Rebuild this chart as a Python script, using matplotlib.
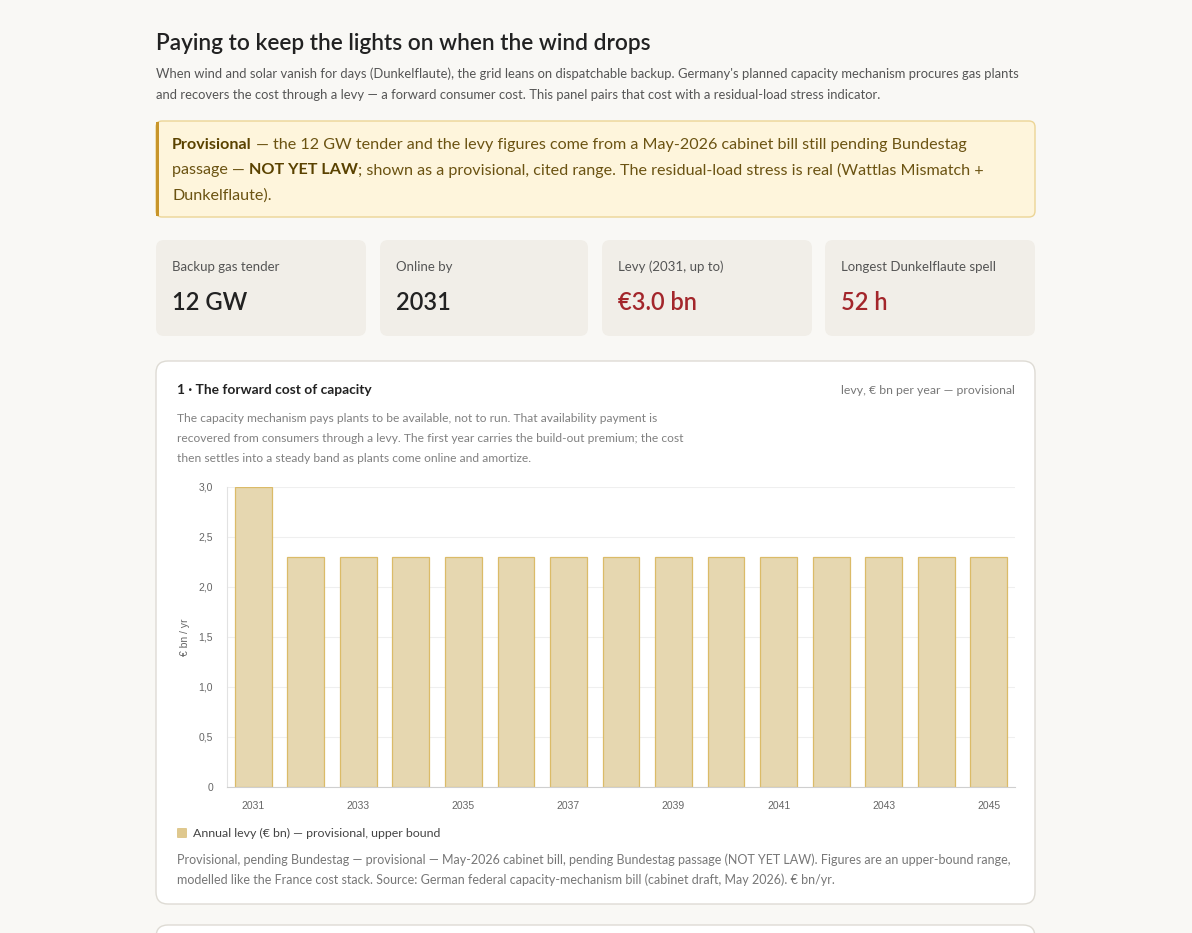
import numpy as np
import matplotlib.pyplot as plt
from matplotlib.patches import FancyBboxPatch, Rectangle
from matplotlib.ticker import FuncFormatter

# data
years = list(range(2031, 2046))
levy = [3.0] + [2.3] * 14
y_ticks = [0, 0.5, 1.0, 1.5, 2.0, 2.5, 3.0]
x_tick_years = [2031, 2033, 2035, 2037, 2039, 2041, 2043, 2045]

kpi_labels = ['Backup gas tender', 'Online by', 'Levy (2031, up to)', 'Longest Dunkelflaute spell']
kpi_values = ['12 GW', '2031', '€3.0 bn', '52 h']
kpi_colors = ['#222222', '#222222', '#a3262b', '#a3262b']

W, H = 1192, 933
FONT = ['Lato', 'DejaVu Sans']
TICKFONT = ['Liberation Sans', 'DejaVu Sans']
plt.rcParams['font.family'] = FONT

fig = plt.figure(figsize=(W / 100, H / 100), dpi=100)
fig.patch.set_facecolor('#f9f8f5')

# overlay axes in pixel coordinates (y down)
bg = fig.add_axes([0, 0, 1, 1], zorder=0)
bg.set_xlim(0, W)
bg.set_ylim(H, 0)
bg.axis('off')


def box(x0, y0, x1, y1, fc, ec='none', lw=1, r=8):
    p = FancyBboxPatch((x0 + r, y0 + r), (x1 - x0) - 2 * r, (y1 - y0) - 2 * r,
                       boxstyle='round,pad=%d' % r, fc=fc, ec=ec, lw=lw)
    bg.add_patch(p)


def runs(x, y, parts, size):
    # draw consecutive text segments (text, bold, color) on one line
    fig.canvas.draw()
    for txt, bold, col in parts:
        t = bg.text(x, y, txt, fontsize=size, color=col, va='center',
                    fontweight='bold' if bold else 'normal')
        fig.canvas.draw()
        x = t.get_window_extent().x1


# header
bg.text(156, 44, 'Paying to keep the lights on when the wind drops', fontsize=16.3,
        color='#222222', va='center', fontweight='semibold')
bg.text(156, 74, "When wind and solar vanish for days (Dunkelflaute), the grid leans on dispatchable backup. "
        "Germany's planned capacity mechanism procures gas plants", fontsize=9.38, color='#555555', va='center')
bg.text(156, 95, 'and recovers the cost through a levy — a forward consumer cost. This panel pairs that cost '
        'with a residual-load stress indicator.', fontsize=9.38, color='#555555', va='center')

# callout
box(156, 121, 1035, 217, '#fef5dc', '#ecd596', 1, 6)
bg.add_patch(Rectangle((156, 122), 3, 94, fc='#c8952a', ec='none'))
ct, cb = '#6b5312', '#5a4200'
runs(172, 145, [('Provisional', True, cb),
                (' — the 12 GW tender and the levy figures come from a May-2026 cabinet bill still pending Bundestag', False, ct)],
     11.6)
runs(172, 170, [('passage — ', False, ct), ('NOT YET LAW', True, cb),
                ('; shown as a provisional, cited range. The residual-load stress is real (Wattlas Mismatch +', False, ct)],
     11.6)
runs(172, 196, [('Dunkelflaute).', False, ct)], 11.6)

# KPI cards
card_x = [(156, 366), (380, 588), (602, 812), (825, 1035)]
for (x0, x1), lab, val, col in zip(card_x, kpi_labels, kpi_values, kpi_colors):
    box(x0, 240, x1, 336, '#f1eee8', r=8)
    bg.text(x0 + 16, 267, lab, fontsize=9.5, color='#555555', va='center')
    bg.text(x0 + 16, 302, val, fontsize=17, color=col, va='center', fontweight='semibold')

# chart card
box(156, 361, 1035, 904, '#ffffff', '#dedbd4', 1, 12)
box(156, 925, 1035, 1000, '#ffffff', '#dedbd4', 1, 12)
bg.text(177, 390, '1 · The forward cost of capacity', fontsize=9.9, color='#222222',
        va='center', fontweight='bold')
bg.text(1015, 390, 'levy, € bn per year — provisional', fontsize=8.8, color='#777777',
        va='center', ha='right')
for yy, line in zip([418, 438, 458], [
        'The capacity mechanism pays plants to be available, not to run. That availability payment is',
        'recovered from consumers through a levy. The first year carries the build-out premium; the cost',
        'then settles into a steady band as plants come online and amortize.']):
    bg.text(177, yy, line, fontsize=8.65, color='#808080', va='center')

# bar chart
ax = fig.add_axes([227 / W, (H - 787) / H, 788 / W, 300 / H], zorder=1)
ax.set_facecolor('none')
x = np.arange(len(years))
ax.bar(x, levy, width=0.7, color='#e6d7b0', edgecolor='#dbbb68', linewidth=0.9, zorder=2)
ax.set_xlim(-0.5, len(years) - 0.5)
ax.set_ylim(0, 3.0)
ax.set_yticks(y_ticks)
ax.yaxis.set_major_formatter(FuncFormatter(lambda v, p: '0' if v == 0 else ('%.1f' % v).replace('.', ',')))
ax.set_xticks([years.index(y) for y in x_tick_years])
ax.set_xticklabels([str(y) for y in x_tick_years])
ax.grid(axis='y', color='#efefef', linewidth=0.8, zorder=0)
for s in ['top', 'right']:
    ax.spines[s].set_visible(False)
ax.spines['left'].set_color('#e2e2e2')
ax.spines['bottom'].set_color('#cfcfcf')
ax.tick_params(axis='both', length=0, labelsize=7.5, labelcolor='#666666')
ax.tick_params(axis='y', pad=10)
ax.tick_params(axis='x', pad=10)
for lab in ax.get_xticklabels() + ax.get_yticklabels():
    lab.set_family(TICKFONT)
ax.set_ylabel('€ bn / yr', fontsize=7.5, color='#666666', family=TICKFONT, labelpad=6)

# legend + footnote
bg.add_patch(FancyBboxPatch((178, 829), 8, 8, boxstyle='round,pad=1', fc='#dfc88e', ec='none'))
bg.text(193, 833, 'Annual levy (€ bn) — provisional, upper bound', fontsize=8.9, color='#444444', va='center')
bg.text(177, 860, 'Provisional, pending Bundestag — provisional — May-2026 cabinet bill, pending Bundestag passage '
        '(NOT YET LAW). Figures are an upper-bound range,', fontsize=9, color='#777777', va='center')
bg.text(177, 880, 'modelled like the France cost stack. Source: German federal capacity-mechanism bill '
        '(cabinet draft, May 2026). € bn/yr.', fontsize=9, color='#777777', va='center')

fig.savefig('out.png', dpi=100, facecolor=fig.get_facecolor())
